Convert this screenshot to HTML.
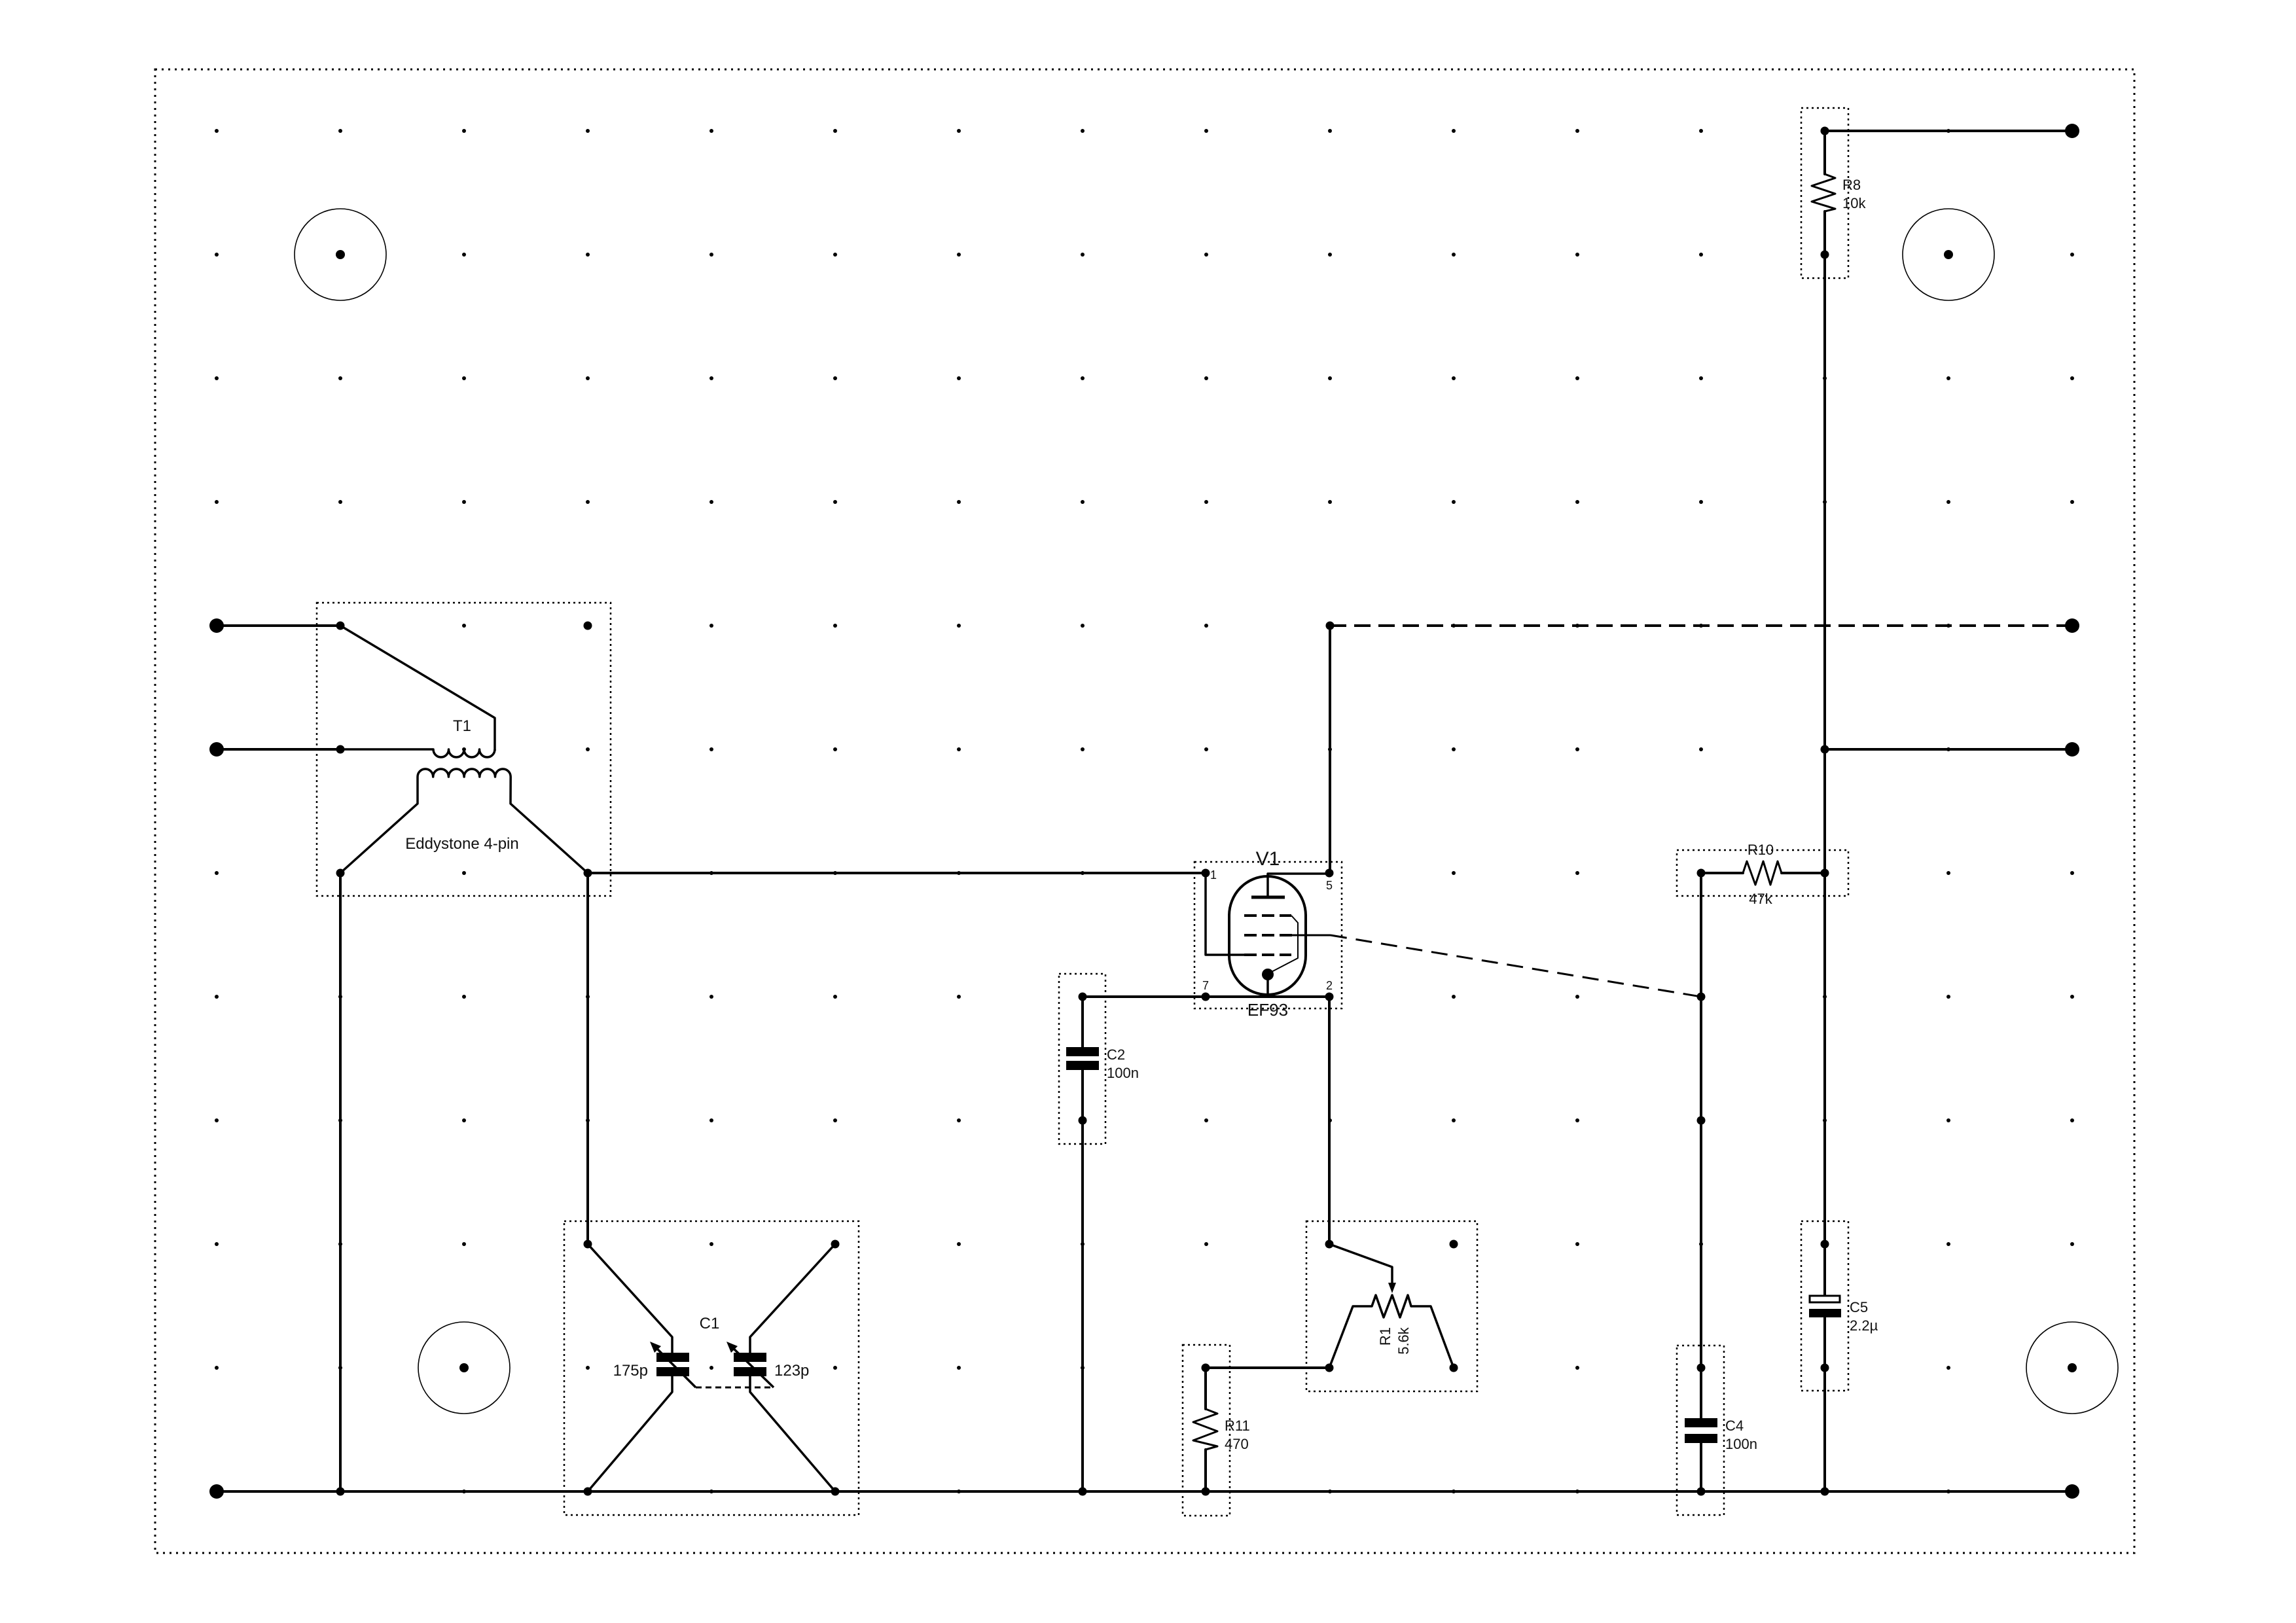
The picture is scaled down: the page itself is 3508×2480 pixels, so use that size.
<!DOCTYPE html>
<html><head><meta charset="utf-8"><style>html,body{margin:0;padding:0;background:#fff}svg{display:block}text{font-family:"Liberation Sans",sans-serif;fill:#111}</style></head><body>
<svg width="3508" height="2480" viewBox="0 0 3508 2480" xmlns="http://www.w3.org/2000/svg">
<defs>
<pattern id="g" patternUnits="userSpaceOnUse" x="236.5" y="105.5" width="189" height="189"><circle cx="94.5" cy="94.5" r="3" fill="#000"/></pattern>
</defs>
<rect width="3508" height="2480" fill="#fff"/>
<rect x="236.5" y="105.5" width="3024" height="2268" fill="url(#g)"/>
<rect x="237" y="106" width="3024" height="2267" fill="none" stroke="#000" stroke-width="3" stroke-dasharray="3 7"/>

<!-- mounting holes -->
<g fill="none" stroke="#000" stroke-width="1.6">
<circle cx="520" cy="389" r="70"/><circle cx="2977" cy="389" r="70"/><circle cx="709" cy="2090" r="70"/><circle cx="3166" cy="2090" r="70"/>
</g>
<g fill="#000"><circle cx="520" cy="389" r="7"/><circle cx="2977" cy="389" r="7"/><circle cx="709" cy="2090" r="7"/><circle cx="3166" cy="2090" r="7"/></g>

<!-- component boxes -->
<g fill="none" stroke="#000" stroke-width="2.5" stroke-dasharray="3 5">
<rect x="484" y="921" width="449" height="448"/>
<rect x="862" y="1866" width="450" height="449"/>
<rect x="1825" y="1317" width="225" height="224"/>
<rect x="1618" y="1488" width="71" height="260"/>
<rect x="1996" y="1866" width="261" height="260"/>
<rect x="1807" y="2055" width="72" height="261"/>
<rect x="2562" y="1299" width="262" height="70"/>
<rect x="2562" y="2056" width="72" height="259"/>
<rect x="2752" y="1866" width="72" height="259"/>
<rect x="2752" y="165" width="72" height="260"/>
</g>

<!-- wires -->
<g fill="none" stroke="#000" stroke-width="4" stroke-linecap="round" stroke-linejoin="round">
<line x1="331" y1="2279" x2="3166" y2="2279"/>
<line x1="331" y1="956" x2="520" y2="956"/>
<line x1="331" y1="1145" x2="520" y2="1145"/>
<line x1="898" y1="1334" x2="1842" y2="1334"/>
<line x1="520" y1="1334" x2="520" y2="2279"/>
<line x1="898" y1="1334" x2="898" y2="1901"/>
<line x1="1654" y1="1523" x2="2031" y2="1523"/>
<line x1="1654" y1="1523" x2="1654" y2="1600"/>
<line x1="1654" y1="1635" x2="1654" y2="2279"/>
<line x1="2031" y1="1523" x2="2031" y2="1901"/>
<line x1="2032" y1="956" x2="2032" y2="1334"/>
<line x1="1842" y1="2090" x2="2031" y2="2090"/>
<line x1="2788" y1="200" x2="3166" y2="200"/>
<line x1="2788" y1="200" x2="2788" y2="266"/>
<line x1="2788" y1="323" x2="2788" y2="1979"/>
<line x1="2788" y1="2013" x2="2788" y2="2279"/>
<line x1="2788" y1="1145" x2="3166" y2="1145"/>
<line x1="2599" y1="1334" x2="2663" y2="1334"/>
<line x1="2722" y1="1334" x2="2788" y2="1334"/>
<line x1="2599" y1="1334" x2="2599" y2="2167"/>
<line x1="2599" y1="2205" x2="2599" y2="2279"/>
<line x1="1842" y1="2090" x2="1842" y2="2153"/>
<line x1="1842" y1="2215" x2="1842" y2="2279"/>
</g>
<line x1="2032" y1="956" x2="3166" y2="956" stroke="#000" stroke-width="4" stroke-dasharray="25 12"/>
<path d="M1974 1429 L2033 1429" stroke="#000" stroke-width="3" fill="none"/>
<line x1="2033" y1="1429" x2="2599" y2="1523" stroke="#000" stroke-width="3" stroke-dasharray="25 14"/>

<!-- T1 -->
<g fill="none" stroke="#000" stroke-width="3.5" stroke-linejoin="round">
<polyline points="520,956 756,1097 756,1147"/>
<path d="M520 1145 L662 1145 a11.75 12 0 0 0 23.5 0 a11.75 12 0 0 0 23.5 0 a11.75 12 0 0 0 23.5 0 a11.75 12 0 0 0 23.5 0"/>
<path d="M520 1334 L638 1228 L638 1187 a11.8 12 0 0 1 23.7 0 a11.8 12 0 0 1 23.7 0 a11.8 12 0 0 1 23.7 0 a11.8 12 0 0 1 23.7 0 a11.8 12 0 0 1 23.7 0 a11.8 12 0 0 1 23.7 0 L780 1228 L898 1334"/>
</g>
<text x="706" y="1117" font-size="24" text-anchor="middle">T1</text>
<text x="706" y="1297" font-size="24" text-anchor="middle">Eddystone 4-pin</text>

<!-- C1 -->
<g fill="none" stroke="#000" stroke-width="3.5" stroke-linejoin="round">
<polyline points="898,1901 1027,2043 1027,2067"/>
<polyline points="1027,2103 1027,2127 898,2279"/>
<polyline points="1276,1901 1146,2043 1146,2067"/>
<polyline points="1146,2103 1146,2127 1276,2279"/>
<polyline points="1063,2120 1001,2058"/>
<polyline points="1182,2120 1118,2058"/>
</g>
<g fill="#000">
<rect x="1003" y="2067" width="50" height="14"/><rect x="1003" y="2089" width="50" height="14"/>
<rect x="1121" y="2067" width="50" height="14"/><rect x="1121" y="2089" width="50" height="14"/>
<polygon points="993,2050 1010,2057 1000,2067"/>
<polygon points="1110,2050 1127,2057 1117,2067"/>
</g>
<line x1="1063" y1="2120" x2="1182" y2="2120" stroke="#000" stroke-width="3" stroke-dasharray="9 6"/>
<text x="1084" y="2030" font-size="24" text-anchor="middle">C1</text>
<text x="990" y="2102" font-size="24" text-anchor="end">175p</text>
<text x="1183" y="2102" font-size="24">123p</text>

<!-- V1 tube -->
<g fill="none" stroke="#000" stroke-linejoin="round">
<rect x="1878" y="1339" width="117" height="181" rx="58.5" ry="60" stroke-width="4"/>
<line x1="1912" y1="1371" x2="1963" y2="1371" stroke-width="5"/>
<polyline points="1937,1371 1937,1335 2031,1335" stroke-width="3.5"/>
<g stroke-width="4">
<path d="M1901 1399 h19 M1928 1399 h19 M1955 1399 h18"/>
<path d="M1901 1429 h19 M1928 1429 h19 M1955 1429 h19"/>
<path d="M1901 1459 h19 M1928 1459 h19 M1955 1459 h18"/>
</g>
<polyline points="1842,1334 1842,1459 1901,1459" stroke-width="3.5"/>
<polyline points="1973,1399 1983,1410 1983,1464 1937,1488" stroke-width="2"/>
<line x1="1937" y1="1489" x2="1937" y2="1523" stroke-width="3.5"/>
</g>
<circle cx="1937" cy="1489" r="9" fill="#000"/>
<text x="1937" y="1322" font-size="30" text-anchor="middle">V1</text>
<text x="1937" y="1552" font-size="26" text-anchor="middle">EF93</text>
<text x="1849" y="1343" font-size="18">1</text>
<text x="2031" y="1359" font-size="18" text-anchor="middle">5</text>
<text x="1842" y="1512" font-size="18" text-anchor="middle">7</text>
<text x="2031" y="1512" font-size="18" text-anchor="middle">2</text>

<!-- C2 -->
<g fill="#000"><rect x="1629" y="1600" width="50" height="14"/><rect x="1629" y="1621" width="50" height="14"/></g>
<text x="1691" y="1619" font-size="22">C2</text>
<text x="1691" y="1647" font-size="22">100n</text>

<!-- R1 -->
<g fill="none" stroke="#000" stroke-width="3.5" stroke-linejoin="round">
<polyline points="2031,1901 2127,1936 2127,1962"/>
<polyline points="2031,2090 2067,1996 2096,1996 2102,1979 2114,2013 2127,1979 2139,2013 2151,1979 2156,1996 2186,1996 2221,2090"/>
</g>
<polygon points="2121,1960 2133,1960 2127,1976" fill="#000"/>
<text transform="translate(2124,2042) rotate(-90)" font-size="22" text-anchor="middle">R1</text>
<text transform="translate(2152,2049) rotate(-90)" font-size="22" text-anchor="middle">5.6k</text>

<!-- R11 -->
<polyline points="1842,2153 1860,2160 1823,2173 1860,2187 1823,2201 1860,2210 1842,2215" fill="none" stroke="#000" stroke-width="3" stroke-linejoin="round"/>
<text x="1871" y="2186" font-size="22">R11</text>
<text x="1871" y="2214" font-size="22">470</text>

<!-- R8 -->
<polyline points="2788,266 2804,272 2768,284 2804,296 2768,308 2804,319 2788,323" fill="none" stroke="#000" stroke-width="3" stroke-linejoin="round"/>
<text x="2815" y="290" font-size="22">R8</text>
<text x="2815" y="318" font-size="22">10k</text>

<!-- R10 -->
<polyline points="2663,1334 2669,1316 2682,1352 2694,1316 2705,1352 2716,1316 2722,1334" fill="none" stroke="#000" stroke-width="3" stroke-linejoin="round"/>
<text x="2690" y="1306" font-size="22" text-anchor="middle">R10</text>
<text x="2690" y="1381" font-size="22" text-anchor="middle">47k</text>

<!-- C4 -->
<g fill="#000"><rect x="2574" y="2167" width="50" height="14"/><rect x="2574" y="2191" width="50" height="14"/></g>
<text x="2636" y="2186" font-size="22">C4</text>
<text x="2636" y="2214" font-size="22">100n</text>

<!-- C5 -->
<rect x="2765" y="1980" width="46" height="10" fill="#fff" stroke="#000" stroke-width="3"/>
<rect x="2764" y="2000" width="49" height="13" fill="#000"/>
<text x="2826" y="2005" font-size="22">C5</text>
<text x="2826" y="2033" font-size="22">2.2µ</text>

<!-- junction dots -->
<g fill="#000">
<circle cx="520" cy="956" r="6.5"/><circle cx="520" cy="1145" r="6.5"/><circle cx="898" cy="956" r="6.5"/>
<circle cx="520" cy="1334" r="6.5"/><circle cx="898" cy="1334" r="6.5"/><circle cx="520" cy="2279" r="6.5"/>
<circle cx="898" cy="1901" r="6.5"/><circle cx="1276" cy="1901" r="6.5"/><circle cx="898" cy="2279" r="6.5"/><circle cx="1276" cy="2279" r="6.5"/>
<circle cx="1842" cy="1334" r="6.5"/><circle cx="2031" cy="1334" r="6.5"/><circle cx="1842" cy="1523" r="6.5"/><circle cx="2031" cy="1523" r="6.5"/>
<circle cx="1654" cy="1523" r="6.5"/><circle cx="1654" cy="1712" r="6.5"/><circle cx="1654" cy="2279" r="6.5"/>
<circle cx="2031" cy="1901" r="6.5"/><circle cx="2221" cy="1901" r="6.5"/><circle cx="2031" cy="2090" r="6.5"/><circle cx="2221" cy="2090" r="6.5"/>
<circle cx="1842" cy="2090" r="6.5"/><circle cx="1842" cy="2279" r="6.5"/>
<circle cx="2032" cy="956" r="6.5"/>
<circle cx="2599" cy="1334" r="6.5"/><circle cx="2599" cy="1523" r="6.5"/><circle cx="2599" cy="1712" r="6.5"/><circle cx="2599" cy="2090" r="6.5"/><circle cx="2599" cy="2279" r="6.5"/>
<circle cx="2788" cy="1334" r="6.5"/><circle cx="2788" cy="1145" r="6.5"/><circle cx="2788" cy="1901" r="6.5"/><circle cx="2788" cy="2090" r="6.5"/><circle cx="2788" cy="2279" r="6.5"/>
<circle cx="2788" cy="200" r="6.5"/><circle cx="2788" cy="389" r="6.5"/>
<!-- terminals -->
<circle cx="331" cy="956" r="11"/><circle cx="331" cy="1145" r="11"/><circle cx="331" cy="2279" r="11"/>
<circle cx="3166" cy="200" r="11"/><circle cx="3166" cy="956" r="11"/><circle cx="3166" cy="1145" r="11"/><circle cx="3166" cy="2279" r="11"/>
</g>
</svg>
</body></html>
